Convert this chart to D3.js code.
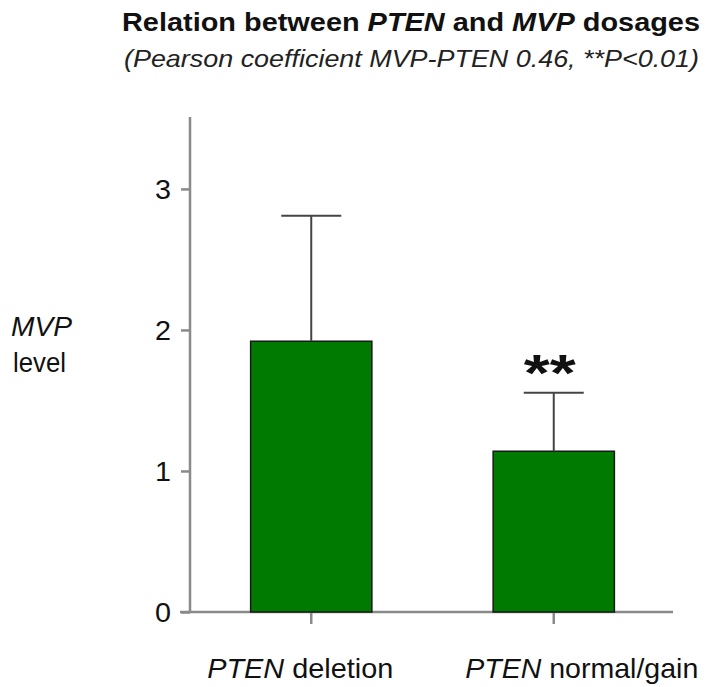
<!DOCTYPE html>
<html>
<head>
<meta charset="utf-8">
<script src="https://cdn.jsdelivr.net/npm/d3@7/dist/d3.min.js"></script>
<style>
    body { margin: 0; background: #fff; }
    svg text { font-family: Arial, "Liberation Sans", sans-serif; fill: #111; }
</style>
</head>
<body>
<div id="chart"></div>
<script>
// Chart values
var categories = ["deletion", "normal/gain"];   // PTEN status groups
var means = [1.92, 1.14];                       // MVP level (bar heights)
var errors = [0.89, 0.415];                     // upper error bar length
var marks = ["", "**"];                         // significance stars
var yTicks = [0, 1, 2, 3];

var width = 712,
    height = 687;

// Small helper so texts can be squeezed or stretched to the reference widths
function fit(sel, len) {
    sel.attr("textLength", len).attr("lengthAdjust", "spacingAndGlyphs");
    return sel;
}

var svg = d3.select("#chart")
    .append("svg")
    .attr("width", width)
    .attr("height", height);

// Scales
var y = d3.scaleLinear().domain([0, 3.51]).range([612, 117]);
var x = d3.scaleBand()
    .domain(categories)
    .range([190, 675])
    .paddingInner(0.5)
    .paddingOuter(0.25);

// Title and subtitle
var title = svg.append("text")
    .attr("x", 122)
    .attr("y", 31)
    .style("font-size", "25px")
    .style("font-weight", "bold");
title.append("tspan").text("Relation between ");
title.append("tspan").style("font-style", "italic").text("PTEN");
title.append("tspan").text(" and ");
title.append("tspan").style("font-style", "italic").text("MVP");
title.append("tspan").text(" dosages");
fit(title, 578);

fit(svg.append("text")
    .attr("x", 124)
    .attr("y", 67)
    .style("font-size", "24px")
    .style("font-style", "italic")
    .style("fill", "#222")
    .text("(Pearson coefficient MVP-PTEN 0.46, **P<0.01)"), 575);

// Y axis
var yAxis = svg.append("g")
    .attr("transform", "translate(190,0)")
    .call(d3.axisLeft(y).tickValues(yTicks).tickFormat(d3.format("d")).tickSize(9).tickPadding(10));
yAxis.select(".domain").remove();
yAxis.selectAll(".tick line").attr("stroke", "#8a8a8a").attr("stroke-width", 2.5);
yAxis.selectAll(".tick text")
    .style("font-size", "27px")
    .attr("fill", "#111")
    .attr("dy", "0.36em")
    .style("font-family", "Arial, 'Liberation Sans', sans-serif")
    .each(function () { fit(d3.select(this), 16); });
svg.append("line")
    .attr("x1", 190).attr("x2", 190)
    .attr("y1", y.range()[1]).attr("y2", y(0))
    .attr("stroke", "#8a8a8a").attr("stroke-width", 2.5);

// Y axis label
var ylab = svg.append("text").attr("x", 11).style("font-size", "27px");
fit(ylab.append("tspan").attr("y", 336).style("font-style", "italic").text("MVP"), 61);
fit(ylab.append("tspan").attr("x", 13).attr("y", 372).text("level"), 53);

// X axis: ticks pointing down, line running a little past the y axis
var xAxis = svg.append("g")
    .attr("transform", "translate(0," + y(0) + ")")
    .call(d3.axisBottom(x).tickSize(12).tickFormat(""));
xAxis.select(".domain").remove();
xAxis.selectAll(".tick line").attr("stroke", "#8a8a8a").attr("stroke-width", 2.5);
svg.append("line")
    .attr("x1", 180).attr("x2", 673)
    .attr("y1", y(0)).attr("y2", y(0))
    .attr("stroke", "#8a8a8a").attr("stroke-width", 2.5);

// Bars
svg.selectAll(".bar")
    .data(means)
    .enter()
    .append("rect")
    .attr("class", "bar")
    .attr("x", function (d, i) { return x(categories[i]); })
    .attr("y", function (d) { return y(d); })
    .attr("width", x.bandwidth())
    .attr("height", function (d) { return y(0) - y(d); })
    .attr("fill", "#007a00")
    .attr("stroke", "#1a1a1a")
    .attr("stroke-width", 1.5);

// Error bars (upper half only)
var capHalf = 30;
means.forEach(function (m, i) {
    var cx = x(categories[i]) + x.bandwidth() / 2;
    svg.append("line")
        .attr("x1", cx).attr("x2", cx)
        .attr("y1", y(m)).attr("y2", y(m + errors[i]))
        .attr("stroke", "#444").attr("stroke-width", 2);
    svg.append("line")
        .attr("x1", cx - capHalf).attr("x2", cx + capHalf)
        .attr("y1", y(m + errors[i])).attr("y2", y(m + errors[i]))
        .attr("stroke", "#444").attr("stroke-width", 2);
    if (marks[i]) {
        fit(svg.append("text")
            .attr("x", cx - 4)
            .attr("y", y(m + errors[i]) - 2)
            .attr("text-anchor", "middle")
            .style("font-size", "52px")
            .style("font-weight", "bold")
            .text(marks[i]), 52);
    }
});

// Category labels under the axis (gene name in italics)
var labelShift = [-11, 28];
categories.forEach(function (c, i) {
    var t = svg.append("text")
        .attr("x", x(c) + x.bandwidth() / 2 + labelShift[i])
        .attr("y", 678)
        .attr("text-anchor", "middle")
        .style("font-size", "28px");
    t.append("tspan").style("font-style", "italic").text("PTEN");
    t.append("tspan").text(" " + c);
    fit(t, i === 0 ? 186 : 233);
});
</script>
</body>
</html>
